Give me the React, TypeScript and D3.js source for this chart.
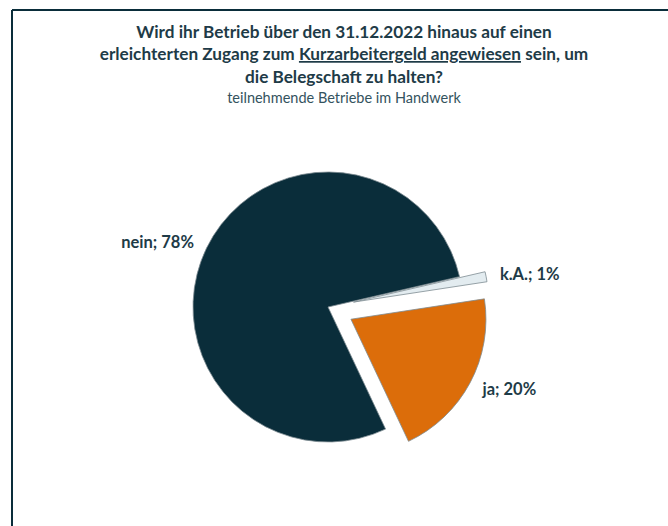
import { useEffect } from "react";
import * as d3 from "d3";

const categories = ["k.A.", "ja", "nein"];
const shares = [1.2, 20.4, 78.4];
const labelPercents = ["1%", "20%", "78%"];
const exploded = [true, true, false];
const sliceColors = ["#e3ecf0", "#dc6d0a", "#0a2d3a"];

const titleLines = [
  "Wird ihr Betrieb über den 31.12.2022 hinaus auf einen",
  ["erleichterten Zugang zum ", "Kurzarbeitergeld angewiesen", " sein, um"],
  "die Belegschaft zu halten?",
];
const subtitle = "teilnehmende Betriebe im Handwerk";

const W = 668;
const H = 526;
const FONT = "Lato, 'Open Sans', sans-serif";
const TEXT = "#1e3b47";

type Datum = { cat: string; value: number; pct: string; out: boolean; color: string };

export default function App() {
  useEffect(() => {
    document.body.style.margin = "0";
  }, []);

  const data: Datum[] = categories.map((c, i) => ({
    cat: c,
    value: shares[i],
    pct: labelPercents[i],
    out: exploded[i],
    color: sliceColors[i],
  }));

  const start = (77 * Math.PI) / 180;
  const pie = d3
    .pie<Datum>()
    .value((d) => d.value)
    .sort(null)
    .startAngle(start)
    .endAngle(start + 2 * Math.PI);

  const radius = 135;
  const cx = 328;
  const cy = 307;
  const arc = d3.arc<d3.PieArcDatum<Datum>>().innerRadius(0).outerRadius(radius);
  const labelR = 149;
  const explode = 26;

  const arcs = pie(data);

  return (
    <svg width={W} height={H} style={{ display: "block" }} fontFamily={FONT}>
      <rect width={W} height={H} fill="#fff" />
      {/* frame (only top/left visible in the crop) */}
      <line x1={12} y1={10} x2={W} y2={10} stroke="#0a2d3a" strokeWidth={2} />
      <line x1={12} y1={10} x2={12} y2={H} stroke="#0a2d3a" strokeWidth={2} />

      <g textAnchor="middle" fill={TEXT} fontWeight="bold" fontSize={17.2}>
        <text x={344} y={38}>{titleLines[0] as string}</text>
        <text x={344} y={60}>
          {(titleLines[1] as string[]).map((t, i) => (
            <tspan key={i} textDecoration={i === 1 ? "underline" : undefined}>
              {t}
            </tspan>
          ))}
        </text>
        <text x={344} y={83}>{titleLines[2] as string}</text>
      </g>
      <text x={344} y={103} textAnchor="middle" fill="#34535e" fontSize={14.5}>
        {subtitle}
      </text>

      <g transform={`translate(${cx},${cy})`}>
        {arcs.map((a) => {
          const mid = (a.startAngle + a.endAngle) / 2;
          const dx = a.data.out ? Math.sin(mid) * explode : 0;
          const dy = a.data.out ? -Math.cos(mid) * explode : 0;
          const lx = dx + Math.sin(mid) * labelR;
          const ly = dy - Math.cos(mid) * labelR;
          const right = Math.sin(mid) > 0;
          return (
            <g key={a.data.cat}>
              <path
                d={arc(a) || ""}
                transform={`translate(${dx},${dy})`}
                fill={a.data.color}
                stroke="#7d8c92"
                strokeWidth={0.8}
              />
              <text
                x={lx}
                y={ly}
                dy="0.35em"
                textAnchor={right ? "start" : "end"}
                fill={TEXT}
                fontWeight="bold"
                fontSize={16.5}
              >
                {`${a.data.cat}; ${a.data.pct}`}
              </text>
            </g>
          );
        })}
      </g>
    </svg>
  );
}
